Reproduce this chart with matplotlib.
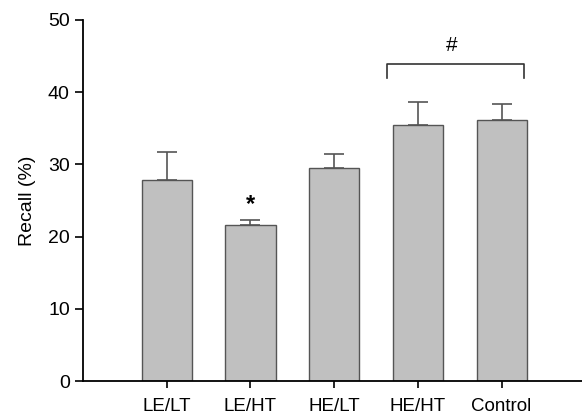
import matplotlib
matplotlib.use("Agg")
import matplotlib.pyplot as plt

categories = ["LE/LT", "LE/HT", "HE/LT", "HE/HT", "Control"]
recall = [27.8, 21.6, 29.5, 35.5, 36.2]
sem = [3.9, 0.7, 1.9, 3.1, 2.2]

plt.rcParams['font.family'] = ['Liberation Sans', 'DejaVu Sans']

fig = plt.figure(figsize=(5.82, 4.17), dpi=100)
ax = fig.add_axes([0.1426, 0.0863, 0.8574, 0.866])

x = list(range(len(categories)))
ax.bar(x, recall, width=0.6, color="#c0c0c0", edgecolor="#555555", linewidth=1.0, zorder=2)
ax.errorbar(x, recall, yerr=[[0]*len(sem), sem], fmt="none", ecolor="#555555",
            elinewidth=1.2, capsize=7, capthick=1.2, zorder=1)

ax.set_xlim(-1.0, 4.96)
ax.set_ylim(0, 50)
ax.set_yticks([0, 10, 20, 30, 40, 50])
ax.set_xticks(x)
ax.set_xticklabels(categories)
ax.tick_params(axis='both', direction='out', length=6, width=1.2, labelsize=14, colors='black')
ax.tick_params(axis='x', length=5, labelsize=13.5, pad=7)
ax.set_ylabel("Recall (%)", fontsize=14)
ax.yaxis.set_label_coords(-0.094, 0.5)

for s in ["top", "right"]:
    ax.spines[s].set_visible(False)
for s in ["left", "bottom"]:
    ax.spines[s].set_linewidth(1.3)

# significance markers
ax.text(1, 24.4, "*", ha="center", va="center", fontsize=17, fontweight="bold")
ax.plot([2.63, 2.63, 4.27, 4.27], [41.9, 43.9, 43.9, 41.9], color="#333333", lw=1.2)
ax.text(3.4, 46.4, "#", ha="center", va="center", fontsize=15)

fig.savefig("out.png", dpi=100)
